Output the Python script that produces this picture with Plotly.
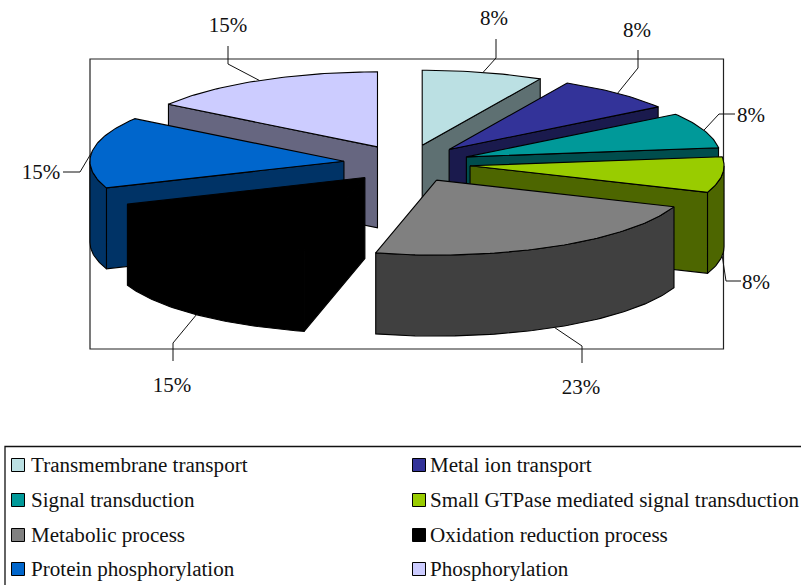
import math
import plotly.graph_objects as go

# Gene counts per biological process; percentages are derived from them
categories = ["Transmembrane transport", "Metal ion transport", "Signal transduction",
              "Small GTPase mediated signal transduction", "Metabolic process",
              "Oxidation reduction process", "Protein phosphorylation", "Phosphorylation"]
counts = [1, 1, 1, 1, 3, 2, 2, 2]
top_colors = ["#BBE0E3", "#333399", "#009999", "#99CC00", "#808080", "#000000", "#0066CC", "#CCCCFF"]
side_colors = ["#5E7072", "#1A1A4D", "#004D4D", "#4D6600", "#404040", "#000000", "#003366", "#666680"]

# Pie projection, in page pixels
CX, CY, RX, RY, DEPTH, EXPLODE = 407, 163.5, 254, 75, 81, 0.25
FONT = "Liberation Serif"
INK = "#111111"

# Elbow and end of each leader line, then the label centre
leader_paths = [[(496, 58), (496, 39)], [(638, 68), (638, 50)], [(719, 114), (735, 114)],
                [(726, 281), (741, 281)], [(582, 346), (582, 363)], [(173, 343), (173, 361)],
                [(80, 172), (63, 172)], [(228, 64), (228, 46)]]
label_centres = [(494, 20), (637, 32), (751, 117), (756, 284), (581, 389), (172, 387), (41, 174), (228, 27)]

# Legend grid
legend_columns = [(18, 31), (419, 430)]
legend_rows = [467, 502, 537, 571]
legend_marker_rows = [465, 500, 535, 569]

fig = go.Figure()


def point(ax, ay, deg, r=1.0):
    a = math.radians(deg)
    return ax + RX * r * math.sin(a), ay - RY * r * math.cos(a)


def poly(pts, fill, width=1.1):
    xs = [p[0] for p in pts] + [pts[0][0]]
    ys = [p[1] for p in pts] + [pts[0][1]]
    fig.add_trace(go.Scatter(x=xs, y=ys, mode="lines", fill="toself", fillcolor=fill,
                             line=dict(color="#000000", width=width), hoverinfo="skip",
                             showlegend=False))


def arc(ax, ay, a0, a1, step=1.0):
    n = max(2, int(abs(a1 - a0) / step) + 1)
    return [point(ax, ay, a0 + (a1 - a0) * i / (n - 1)) for i in range(n)]


total = sum(counts)
spans = []
acc = 0
for c in counts:
    spans.append((acc * 360 / total, (acc + c) * 360 / total))
    acc += c

apexes = []
for a0, a1 in spans:
    apexes.append(point(CX, CY, (a0 + a1) / 2, EXPLODE))

# Slices are painted from the back of the pie to the front
order = sorted(range(len(counts)), key=lambda k: -math.cos(math.radians(sum(spans[k]) / 2)))
for k in order:
    a0, a1 = spans[k]
    ax, ay = apexes[k]
    side = side_colors[k]
    # Only the cut faces turned towards the viewer are drawn
    for edge, sign in ((a0, -1), (a1, 1)):
        if sign * math.sin(math.radians(edge)) > 1e-9:
            ox, oy = point(ax, ay, edge)
            poly([(ax, ay), (ox, oy), (ox, oy + DEPTH), (ax, ay + DEPTH)], side)
    lo, hi = max(a0, 90), min(a1, 270)
    if lo < hi:
        rim = arc(ax, ay, lo, hi)
        poly(rim + [(x, y + DEPTH) for x, y in reversed(rim)], side)
    poly([(ax, ay)] + arc(ax, ay, a0, a1), top_colors[k])

# Leader lines start on the rim at each slice's mid angle
for k, path in enumerate(leader_paths):
    mid = sum(spans[k]) / 2
    sx, sy = point(*apexes[k], mid)
    if math.cos(math.radians(mid)) < 0:
        sy += DEPTH
    pts = [(sx, sy)] + path
    fig.add_trace(go.Scatter(x=[p[0] for p in pts], y=[p[1] for p in pts], mode="lines",
                             line=dict(color=INK, width=1), hoverinfo="skip", showlegend=False))

fig.add_trace(go.Scatter(x=[p[0] for p in label_centres], y=[p[1] for p in label_centres],
                         mode="text", text=[f"{round(100 * c / total)}%" for c in counts],
                         textposition="middle center", textfont=dict(family=FONT, size=21, color=INK),
                         hoverinfo="skip", showlegend=False))

# Two-column key
for k, name in enumerate(categories):
    mx, tx = legend_columns[k % 2]
    fig.add_trace(go.Scatter(x=[mx], y=[legend_marker_rows[k // 2]], mode="markers",
                             marker=dict(symbol="square", size=13, color=top_colors[k],
                                         line=dict(color="#000000", width=1)),
                             hoverinfo="skip", showlegend=False))
    fig.add_trace(go.Scatter(x=[tx], y=[legend_rows[k // 2]], mode="text", text=[name],
                             textposition="middle right",
                             textfont=dict(family=FONT, size=21.1, color=INK), cliponaxis=False,
                             hoverinfo="skip", showlegend=False))

axis = dict(visible=False, showgrid=False, zeroline=False)
fig.update_layout(
    width=801, height=585, margin=dict(l=0, r=0, t=0, b=0, pad=0), autosize=False,
    paper_bgcolor="white", plot_bgcolor="white",
    xaxis=dict(range=[0, 801], **axis), yaxis=dict(range=[585, 0], **axis),
    shapes=[
        dict(type="rect", xref="x", yref="y", x0=90, y0=59, x1=723.5, y1=349,
             line=dict(color="#222222", width=1.2), layer="below"),
        dict(type="rect", xref="x", yref="y", x0=5, y0=446.5, x1=830, y1=620,
             line=dict(color="#111111", width=1.3), layer="below"),
    ],
)

fig.write_html("out.html")
